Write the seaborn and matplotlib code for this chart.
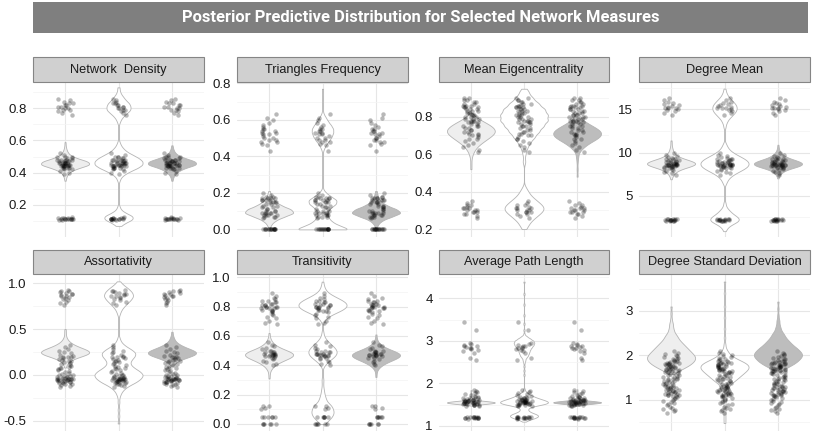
import numpy as np
import pandas as pd
import matplotlib
matplotlib.use("Agg")
import matplotlib.pyplot as plt
import seaborn as sns
from matplotlib.patches import Rectangle
from matplotlib.ticker import FixedLocator

sns.set_theme(style="white")
plt.rcParams["font.family"] = ["Liberation Sans", "DejaVu Sans"]
np.random.seed(7)

# ---------------------------------------------------------------- data
title = "Posterior Predictive Distribution for Selected Network Measures"
models = ["Model 1", "Model 2", "Model 3"]
measures = ["Network  Density", "Triangles Frequency", "Mean Eigencentrality", "Degree Mean",
            "Assortativity", "Transitivity", "Average Path Length", "Degree Standard Deviation"]

# observed values (jittered points, same in each column)
nd_points = [0.86, 0.85, 0.84, 0.83, 0.83, 0.82, 0.82, 0.81, 0.81, 0.80, 0.80, 0.79, 0.79, 0.78, 0.77, 0.76,
             0.52, 0.51, 0.50, 0.50, 0.49, 0.49, 0.48, 0.48, 0.48, 0.47, 0.47, 0.47, 0.47, 0.46, 0.46, 0.46,
             0.46, 0.46, 0.45, 0.45, 0.45, 0.45, 0.45, 0.44, 0.44, 0.44, 0.44, 0.43, 0.43, 0.43, 0.42, 0.42,
             0.41, 0.40, 0.39, 0.47, 0.46, 0.45, 0.44, 0.48, 0.46, 0.43, 0.50, 0.45,
             0.125, 0.12, 0.12, 0.12, 0.115, 0.115, 0.115, 0.11, 0.11, 0.11, 0.11, 0.105, 0.105, 0.12, 0.115, 0.11]
tri_points = [0.0] * 16 + [
    0.20, 0.19, 0.18, 0.18, 0.17, 0.17, 0.17, 0.16, 0.16, 0.16, 0.16, 0.15, 0.15, 0.15, 0.14, 0.14, 0.13,
    0.13, 0.12, 0.12, 0.11, 0.11, 0.10, 0.10, 0.10, 0.09, 0.09, 0.09, 0.09, 0.08, 0.08, 0.08, 0.08, 0.07,
    0.07, 0.07, 0.06, 0.15, 0.09, 0.17,
    0.63, 0.61, 0.60, 0.58, 0.57, 0.56, 0.55, 0.55, 0.54, 0.53, 0.53, 0.52, 0.52, 0.51, 0.50, 0.50, 0.49,
    0.49, 0.48, 0.48, 0.47, 0.46, 0.43, 0.54]
me_points = [0.90, 0.90, 0.89, 0.89, 0.88, 0.88, 0.87, 0.87, 0.86, 0.86, 0.85, 0.85, 0.85, 0.84, 0.84, 0.83,
             0.83, 0.83, 0.82, 0.82, 0.82, 0.81, 0.81, 0.80, 0.80, 0.80, 0.79, 0.79, 0.79, 0.78, 0.78, 0.77,
             0.77, 0.77, 0.76, 0.76, 0.75, 0.75, 0.74, 0.74, 0.73, 0.73, 0.72, 0.72, 0.71, 0.71, 0.70, 0.70,
             0.69, 0.68, 0.68, 0.67, 0.66, 0.65, 0.64, 0.62, 0.61, 0.86, 0.81, 0.78, 0.75, 0.84,
             0.35, 0.34, 0.33, 0.33, 0.32, 0.31, 0.31, 0.30, 0.30, 0.30, 0.29, 0.29, 0.29, 0.28, 0.28, 0.27,
             0.26, 0.31]
dm_points = [16.3, 16.1, 15.9, 15.7, 15.6, 15.5, 15.4, 15.3, 15.2, 15.2, 15.1, 15.0, 14.9, 14.8, 14.6, 14.3,
             9.9, 9.7, 9.5, 9.4, 9.3, 9.2, 9.1, 9.1, 9.0, 9.0, 8.9, 8.9, 8.8, 8.8, 8.8, 8.7, 8.7, 8.7, 8.6,
             8.6, 8.6, 8.5, 8.5, 8.5, 8.4, 8.4, 8.3, 8.3, 8.2, 8.2, 8.1, 8.0, 7.9, 7.8, 7.6, 7.4, 8.9, 8.6,
             8.4, 9.2, 8.7, 8.3, 9.6, 8.5,
             2.35, 2.3, 2.28, 2.25, 2.22, 2.2, 2.2, 2.18, 2.15, 2.15, 2.12, 2.1, 2.05, 2.3, 2.2, 2.1]
as_points = [0.93, 0.92, 0.91, 0.90, 0.89, 0.88, 0.87, 0.86, 0.86, 0.85, 0.84, 0.83, 0.82, 0.80, 0.78, 0.76, 0.88,
             0.33, 0.30, 0.28, 0.26, 0.25, 0.24, 0.22, 0.21, 0.20, 0.19, 0.18, 0.17, 0.16, 0.15, 0.14, 0.13,
             0.12, 0.11, 0.10, 0.09, 0.08, 0.07, 0.06, 0.05, 0.04, 0.03, 0.02, 0.01, 0.20, 0.15,
             0.00, 0.00, -0.01, -0.01, -0.02, -0.02, -0.03, -0.03, -0.04, -0.04, -0.04, -0.05, -0.05, -0.05,
             -0.06, -0.06, -0.06, -0.07, -0.07, -0.07, -0.08, -0.08, -0.09, -0.09, -0.10, -0.10, -0.11, -0.12,
             -0.13, -0.05, -0.03, -0.06, -0.08]
tr_points = [0.89, 0.87, 0.86, 0.85, 0.84, 0.84, 0.83, 0.83, 0.82, 0.82, 0.81, 0.81, 0.81, 0.80, 0.80, 0.80,
             0.79, 0.79, 0.79, 0.78, 0.78, 0.77, 0.77, 0.76, 0.75, 0.74, 0.73, 0.72, 0.70, 0.69, 0.68, 0.80,
             0.56, 0.54, 0.53, 0.52, 0.51, 0.50, 0.50, 0.49, 0.49, 0.48, 0.48, 0.48, 0.47, 0.47, 0.47, 0.46,
             0.46, 0.45, 0.45, 0.44, 0.43, 0.42, 0.41, 0.40, 0.48, 0.46, 0.49, 0.47,
             0.12, 0.12, 0.11, 0.10, 0.05, 0.05, 0.05, 0.05, 0.05, 0.05, 0.0, 0.0, 0.0, 0.0, 0.0, 0.0]
apl_points = [3.45, 3.25,
              2.95, 2.92, 2.90, 2.88, 2.87, 2.85, 2.84, 2.82, 2.80, 2.78, 2.75, 2.72, 2.60, 2.55,
              1.85, 1.82, 1.80, 1.78, 1.75, 1.72, 1.70, 1.68, 1.67, 1.66, 1.65, 1.64, 1.63, 1.62, 1.61,
              1.60, 1.60, 1.59, 1.58, 1.58, 1.57, 1.57, 1.56, 1.56, 1.55, 1.55, 1.54, 1.54, 1.53, 1.53,
              1.52, 1.52, 1.51, 1.50, 1.50, 1.49, 1.48, 1.47, 1.46, 1.62, 1.58, 1.55, 1.65, 1.53,
              1.22, 1.21, 1.21, 1.20, 1.20, 1.20, 1.19, 1.19, 1.19, 1.18, 1.18, 1.18, 1.17, 1.20, 1.19]
dsd_points = [2.10, 2.05, 2.03, 2.00, 1.98, 1.96, 1.95, 1.93, 1.92, 1.90, 1.88, 1.87, 1.86, 1.85, 1.84,
              1.83, 1.82, 1.81, 1.80, 1.80, 1.79, 1.78, 1.77, 1.76, 1.75, 1.74, 1.73, 1.72, 1.71, 1.70,
              1.70, 1.69, 1.68, 1.67, 1.66, 1.65, 1.64, 1.63, 1.62, 1.61, 1.60, 1.58, 1.57, 1.55, 1.54,
              1.52, 1.51, 1.50, 1.48, 1.47, 1.46, 1.45, 1.43, 1.42, 1.40, 1.39, 1.38, 1.36, 1.35, 1.34,
              1.32, 1.31, 1.30, 1.29, 1.28, 1.27, 1.26, 1.25, 1.24, 1.23, 1.22, 1.21, 1.20, 1.19, 1.18,
              1.17, 1.16, 1.15, 1.14, 1.13, 1.12, 1.11, 1.10, 1.09, 1.08, 1.06, 1.04, 1.02, 1.00, 0.98,
              0.95, 0.92, 0.90, 0.88, 0.85, 0.82, 0.80, 0.77, 0.74, 0.70]

# posterior predictive draws: value grid + number of draws at each value
nd_m1_vals = [0.35, 0.37, 0.39, 0.41, 0.43, 0.45, 0.47, 0.49, 0.51, 0.53, 0.55, 0.57, 0.59]
nd_m1_cnts = [1, 2, 4, 10, 24, 44, 40, 20, 8, 4, 2, 1, 1]
nd_m2_vals = [0.07, 0.09, 0.11, 0.13, 0.15, 0.17, 0.19,
              0.35, 0.37, 0.39, 0.41, 0.43, 0.45, 0.47, 0.49, 0.51, 0.53, 0.55, 0.57, 0.59,
              0.71, 0.73, 0.75, 0.77, 0.79, 0.81, 0.83, 0.85, 0.87, 0.89, 0.91, 0.93]
nd_m2_cnts = [2, 6, 12, 12, 6, 2, 1,
              1, 2, 5, 10, 16, 20, 20, 17, 12, 7, 4, 2, 1,
              1, 2, 4, 7, 10, 10, 9, 6, 4, 2, 1, 1]
nd_m3_vals = [0.35, 0.37, 0.39, 0.41, 0.43, 0.45, 0.47, 0.49, 0.51, 0.53, 0.55, 0.57]
nd_m3_cnts = [1, 2, 5, 11, 22, 42, 40, 22, 9, 4, 2, 1]

tri_m1_vals = [0.01, 0.03, 0.05, 0.07, 0.09, 0.11, 0.13, 0.15, 0.17, 0.19, 0.21]
tri_m1_cnts = [1, 3, 8, 18, 30, 26, 15, 8, 4, 2, 1]
tri_m2_vals = [0.0, 0.02, 0.04, 0.06, 0.08, 0.10, 0.12, 0.14, 0.16, 0.18, 0.20, 0.22,
               0.43, 0.45, 0.47, 0.49, 0.51, 0.53, 0.55, 0.57, 0.59, 0.61, 0.63, 0.66, 0.70, 0.74, 0.77]
tri_m2_cnts = [40, 24, 14, 9, 7, 7, 12, 19, 20, 12, 5, 1,
               1, 3, 6, 10, 13, 15, 15, 12, 8, 5, 2, 1, 1, 1, 1]
tri_m3_vals = [0.01, 0.03, 0.05, 0.07, 0.09, 0.11, 0.13, 0.15, 0.17, 0.19, 0.21]
tri_m3_cnts = [1, 3, 8, 20, 32, 26, 14, 7, 3, 2, 1]

me_m1_vals = [0.52, 0.55, 0.58, 0.60, 0.62, 0.64, 0.66, 0.68, 0.70, 0.72, 0.74, 0.76, 0.78, 0.80, 0.82]
me_m1_cnts = [1, 1, 1, 2, 4, 7, 12, 18, 24, 28, 26, 20, 12, 5, 1]
me_m2_vals = [0.20, 0.22, 0.24, 0.26, 0.28, 0.30, 0.32, 0.34, 0.36, 0.38, 0.40, 0.42,
              0.56, 0.60, 0.63, 0.66, 0.69, 0.72, 0.75, 0.78, 0.81, 0.84, 0.87, 0.90, 0.93, 0.95]
me_m2_cnts = [1, 2, 3, 5, 7, 9, 9, 7, 5, 3, 2, 1,
              1, 1, 2, 4, 7, 10, 13, 16, 16, 14, 10, 6, 3, 1]
me_m3_vals = [0.48, 0.52, 0.56, 0.59, 0.62, 0.64, 0.66, 0.68, 0.70, 0.72, 0.74, 0.76, 0.78, 0.80, 0.82]
me_m3_cnts = [1, 1, 1, 2, 4, 8, 14, 22, 28, 28, 22, 14, 7, 3, 1]

dm_m1_vals = [6.9, 7.2, 7.5, 7.8, 8.1, 8.4, 8.7, 9.0, 9.3, 9.6, 9.9, 10.2, 10.5, 10.8, 11.1, 11.4]
dm_m1_cnts = [1, 2, 4, 8, 16, 30, 40, 32, 18, 9, 5, 3, 2, 1, 1, 1]
dm_m2_vals = [0.9, 1.2, 1.5, 1.8, 2.1, 2.4, 2.7, 3.0, 3.3, 3.6, 3.9, 4.2,
              6.3, 6.6, 6.9, 7.2, 7.5, 7.8, 8.1, 8.4, 8.7, 9.0, 9.3, 9.6, 9.9, 10.2, 10.5, 10.8, 11.1,
              12.9, 13.2, 13.5, 13.8, 14.1, 14.4, 14.7, 15.0, 15.3, 15.6, 15.9, 16.2, 16.5, 16.8, 17.1, 17.4]
dm_m2_cnts = [1, 2, 4, 8, 12, 12, 9, 6, 4, 2, 1, 1,
              1, 2, 3, 5, 8, 12, 16, 19, 20, 19, 16, 12, 8, 5, 3, 2, 1,
              1, 1, 2, 3, 5, 7, 9, 10, 10, 9, 7, 5, 3, 2, 1, 1]
dm_m3_vals = [7.0, 7.3, 7.6, 7.9, 8.2, 8.5, 8.8, 9.1, 9.4, 9.7, 10.0, 10.3, 10.6, 10.9]
dm_m3_cnts = [1, 2, 5, 10, 22, 38, 40, 28, 15, 8, 4, 2, 1, 1]

as_m1_vals = [0.08, 0.12, 0.15, 0.18, 0.21, 0.24, 0.27, 0.30, 0.33, 0.36, 0.39, 0.42, 0.46, 0.50]
as_m1_cnts = [1, 2, 4, 9, 18, 26, 22, 14, 8, 4, 2, 1, 1, 1]
as_m2_vals = [-0.53, -0.45, -0.38, -0.30, -0.24, -0.20, -0.16, -0.12, -0.08, -0.04, 0.0, 0.04, 0.08,
              0.12, 0.16, 0.20, 0.24, 0.28, 0.32, 0.36, 0.40,
              0.66, 0.70, 0.74, 0.78, 0.82, 0.86, 0.90, 0.94, 0.98, 1.02]
as_m2_cnts = [1, 1, 1, 1, 1, 2, 4, 8, 14, 18, 20, 17, 12,
              9, 10, 13, 14, 10, 5, 2, 1,
              1, 2, 4, 7, 10, 12, 11, 8, 4, 1]
as_m3_vals = [0.10, 0.13, 0.16, 0.19, 0.22, 0.25, 0.28, 0.31, 0.34, 0.37, 0.40, 0.43, 0.47]
as_m3_cnts = [1, 3, 7, 15, 24, 26, 18, 11, 6, 3, 2, 1, 1]

tr_m1_vals = [0.31, 0.34, 0.37, 0.39, 0.41, 0.43, 0.45, 0.47, 0.49, 0.51, 0.53, 0.55, 0.57, 0.59, 0.62]
tr_m1_cnts = [1, 1, 2, 4, 8, 14, 22, 28, 24, 14, 8, 4, 2, 1, 1]
tr_m2_vals = [0.0, 0.02, 0.04, 0.06, 0.08, 0.10, 0.12, 0.14, 0.17, 0.20, 0.23, 0.26, 0.29, 0.31,
              0.39, 0.41, 0.43, 0.45, 0.47, 0.49, 0.51, 0.53, 0.55, 0.57, 0.59, 0.61, 0.63,
              0.69, 0.71, 0.73, 0.75, 0.77, 0.79, 0.81, 0.83, 0.85, 0.87, 0.89, 0.91, 0.93, 0.95, 0.97]
tr_m2_cnts = [2, 5, 8, 10, 11, 10, 9, 7, 5, 3, 2, 1, 1, 1,
              1, 3, 6, 10, 13, 14, 13, 10, 7, 4, 2, 1, 1,
              1, 2, 5, 10, 17, 22, 24, 22, 17, 11, 6, 3, 2, 1, 1]
tr_m3_vals = [0.32, 0.35, 0.38, 0.40, 0.42, 0.44, 0.46, 0.48, 0.50, 0.52, 0.54, 0.56, 0.58, 0.61]
tr_m3_cnts = [1, 1, 3, 6, 12, 20, 28, 28, 18, 10, 5, 2, 1, 1]

apl_m1_vals = [1.48, 1.50, 1.52, 1.54, 1.56, 1.58, 1.60, 1.63, 1.67, 1.72, 1.78, 1.84]
apl_m1_cnts = [1, 4, 14, 30, 30, 14, 5, 2, 1, 1, 1, 1]
apl_m2_vals = [1.10, 1.13, 1.16, 1.19, 1.22, 1.25, 1.28, 1.31, 1.34, 1.37, 1.40,
               1.43, 1.46, 1.49, 1.52, 1.55, 1.58, 1.61, 1.64, 1.67, 1.70, 1.73, 1.76, 1.79, 1.82, 1.86,
               2.20, 2.30, 2.40, 2.48, 2.54, 2.60, 2.65, 2.70, 2.75, 2.80, 2.85, 2.90, 2.95, 3.00, 3.05,
               3.10, 3.16, 3.25, 3.40, 3.60, 3.85, 4.10, 4.39]
apl_m2_cnts = [1, 3, 6, 9, 11, 11, 9, 6, 4, 3, 3,
               4, 7, 12, 17, 19, 18, 15, 12, 9, 7, 5, 3, 2, 1, 1,
               1, 1, 1, 1, 2, 3, 5, 6, 7, 8, 10, 12, 13, 12, 8,
               4, 1, 1, 1, 1, 1, 1, 1]
apl_m3_vals = [1.47, 1.50, 1.52, 1.54, 1.56, 1.58, 1.60, 1.63, 1.66, 1.70, 1.75, 1.80, 1.86]
apl_m3_cnts = [1, 3, 12, 28, 32, 16, 6, 3, 2, 1, 1, 1, 1]

dsd_m1_vals = [1.58, 1.64, 1.70, 1.76, 1.82, 1.88, 1.94, 2.00, 2.06, 2.12, 2.18, 2.24, 2.30, 2.36,
               2.42, 2.48, 2.56, 2.64, 2.72, 2.82, 2.95, 3.10]
dsd_m1_cnts = [2, 5, 9, 13, 16, 18, 19, 18, 16, 14, 12, 10, 8, 6, 5, 4, 3, 2, 2, 1, 1, 1]
dsd_m2_vals = [0.48, 0.58, 0.68, 0.78, 0.88, 0.98, 1.06, 1.14, 1.22, 1.30, 1.38, 1.44, 1.50,
               1.56, 1.62, 1.68, 1.74, 1.80, 1.86, 1.92, 1.98, 2.04, 2.10, 2.16, 2.25, 2.40, 2.60,
               2.85, 3.10, 3.40, 3.66]
dsd_m2_cnts = [1, 1, 1, 1, 1, 1, 2, 2, 3, 4, 5, 7, 9, 11, 13, 15, 16, 15, 12, 8, 5, 3, 2, 1,
               1, 1, 1, 1, 1, 1, 1]
dsd_m3_vals = [1.62, 1.68, 1.74, 1.80, 1.86, 1.92, 1.98, 2.04, 2.10, 2.16, 2.22, 2.28, 2.34, 2.40,
               2.46, 2.52, 2.60, 2.68, 2.78, 2.90, 3.05, 3.21]
dsd_m3_cnts = [2, 4, 8, 12, 15, 17, 19, 19, 17, 15, 12, 10, 8, 6, 5, 4, 3, 2, 2, 1, 1, 1]

# y-axis ticks per panel
nd_ticks = [0.2, 0.4, 0.6, 0.8]
tri_ticks = [0.0, 0.2, 0.4, 0.6, 0.8]
me_ticks = [0.2, 0.4, 0.6, 0.8]
dm_ticks = [5, 10, 15]
as_ticks = [-0.5, 0.0, 0.5, 1.0]
tr_ticks = [0.0, 0.2, 0.4, 0.6, 0.8, 1.0]
apl_ticks = [1, 2, 3, 4]
dsd_ticks = [1, 2, 3]
nd_labels = ["0.2", "0.4", "0.6", "0.8"]
tri_labels = ["0.0", "0.2", "0.4", "0.6", "0.8"]
me_labels = ["0.2", "0.4", "0.6", "0.8"]
dm_labels = ["5", "10", "15"]
as_labels = ["-0.5", "0.0", "0.5", "1.0"]
tr_labels = ["0.0", "0.2", "0.4", "0.6", "0.8", "1.0"]
apl_labels = ["1", "2", "3", "4"]
dsd_labels = ["1", "2", "3"]

# ---------------------------------------------------------------- styling / layout
panels = [
    (nd_points, [(nd_m1_vals, nd_m1_cnts), (nd_m2_vals, nd_m2_cnts), (nd_m3_vals, nd_m3_cnts)],
     nd_ticks, nd_labels, [0.1, 0.3, 0.5, 0.7, 0.9], (0.004, 0.963), 0.012),
    (tri_points, [(tri_m1_vals, tri_m1_cnts), (tri_m2_vals, tri_m2_cnts), (tri_m3_vals, tri_m3_cnts)],
     tri_ticks, tri_labels, [0.1, 0.3, 0.5, 0.7], (-0.039, 0.807), 0.011),
    (me_points, [(me_m1_vals, me_m1_cnts), (me_m2_vals, me_m2_cnts), (me_m3_vals, me_m3_cnts)],
     me_ticks, me_labels, [0.3, 0.5, 0.7, 0.9], (0.16, 0.986), 0.015),
    (dm_points, [(dm_m1_vals, dm_m1_cnts), (dm_m2_vals, dm_m2_cnts), (dm_m3_vals, dm_m3_cnts)],
     dm_ticks, dm_labels, [2.5, 7.5, 12.5, 17.5], (0.28, 18.16), 0.22),
    (as_points, [(as_m1_vals, as_m1_cnts), (as_m2_vals, as_m2_cnts), (as_m3_vals, as_m3_cnts)],
     as_ticks, as_labels, [-0.25, 0.25, 0.75], (-0.612, 1.10), 0.025),
    (tr_points, [(tr_m1_vals, tr_m1_cnts), (tr_m2_vals, tr_m2_cnts), (tr_m3_vals, tr_m3_cnts)],
     tr_ticks, tr_labels, [0.1, 0.3, 0.5, 0.7, 0.9], (-0.048, 1.022), 0.018),
    (apl_points, [(apl_m1_vals, apl_m1_cnts), (apl_m2_vals, apl_m2_cnts), (apl_m3_vals, apl_m3_cnts)],
     apl_ticks, apl_labels, [1.5, 2.5, 3.5, 4.5], (0.88, 4.57), 0.025),
    (dsd_points, [(dsd_m1_vals, dsd_m1_cnts), (dsd_m2_vals, dsd_m2_cnts), (dsd_m3_vals, dsd_m3_cnts)],
     dsd_ticks, dsd_labels, [0.5, 1.5, 2.5, 3.5], (0.30, 3.83), 0.05),
]

fills = ["#eeeeee", "#ffffff", "#bdbdbd"]
W, H = 817, 437
cols_px = [(33, 204), (237, 408), (439, 609), (639, 810)]
rows_px = [(82, 236.5), (274, 431)]
strips_px = [(57, 82), (250, 274)]


def make_bw(h):
    def f(kde):
        return h / float(np.std(kde.dataset, ddof=1))
    return f


def fig_rect(x0, y0, x1, y1):
    return [x0 / W, 1 - y1 / H, (x1 - x0) / W, (y1 - y0) / H]


fig = plt.figure(figsize=(W / 100, H / 100), dpi=100)

# title banner
fig.patches.append(Rectangle((33 / W, 1 - 33 / H), (808 - 33) / W, 31 / H, transform=fig.transFigure,
                             facecolor="#7f7f7f", edgecolor="none", zorder=0))
fig.text((33 + 808) / 2 / W, 1 - 17.5 / H, title, color="white", fontsize=11.9, fontweight="bold",
         ha="center", va="center", family=["Roboto", "DejaVu Sans"])

for i, (pts, viols, ticks, labels, minor, ylim, bw) in enumerate(panels):
    r, c = divmod(i, 4)
    x0, x1 = cols_px[c]
    y0, y1 = rows_px[r]
    ax = fig.add_axes(fig_rect(x0, y0, x1, y1))

    vdf = pd.concat([pd.DataFrame({"model": m, "value": np.repeat(v, n)})
                     for m, (v, n) in zip(models, viols)], ignore_index=True)
    pdf = pd.concat([pd.DataFrame({"model": m, "value": pts}) for m in models], ignore_index=True)

    sns.violinplot(data=vdf, x="model", y="value", hue="model", order=models, hue_order=models,
                   palette=fills, saturation=1, legend=False, inner=None, cut=0,
                   density_norm="width", width=0.9, linewidth=0.6, linecolor="#b4b4b4",
                   bw_method=make_bw(bw), gridsize=400, ax=ax)
    sns.stripplot(data=pdf, x="model", y="value", order=models, color="black", alpha=0.28,
                  size=3.2, jitter=0.15, linewidth=0, zorder=3, ax=ax)

    ax.set_xlim(-0.6, 2.6)
    ax.set_ylim(*ylim)
    ax.set_xticks([0, 1, 2])
    ax.set_xticklabels([])
    ax.set_yticks(ticks)
    ax.set_yticklabels(labels)
    ax.yaxis.set_minor_locator(FixedLocator(minor))
    ax.set_xlabel("")
    ax.set_ylabel("")
    ax.tick_params(axis="x", length=0)
    ax.tick_params(axis="y", which="major", length=3, width=0.9, color="#333333",
                   labelsize=9.5, labelcolor="#1a1a1a", pad=1.5)
    ax.tick_params(axis="y", which="minor", length=0)
    ax.set_axisbelow(True)
    ax.grid(True, which="major", axis="both", color="#e6e6e6", lw=0.8)
    ax.grid(True, which="minor", axis="y", color="#f3f3f3", lw=0.5)
    for s in ax.spines.values():
        s.set_visible(False)
    ax.set_facecolor("white")

    # strip label
    sy0, sy1 = strips_px[r]
    fig.patches.append(Rectangle((x0 / W, 1 - sy1 / H), (x1 - x0) / W, (sy1 - sy0) / H,
                                 transform=fig.transFigure, facecolor="#d0d0d0",
                                 edgecolor="#858585", lw=0.8, zorder=0))
    fig.text((x0 + x1) / 2 / W, 1 - (sy0 + sy1) / 2 / H, measures[i], fontsize=9.2,
             color="#1a1a1a", ha="center", va="center")

fig.savefig("out.png", dpi=100, facecolor="white")
